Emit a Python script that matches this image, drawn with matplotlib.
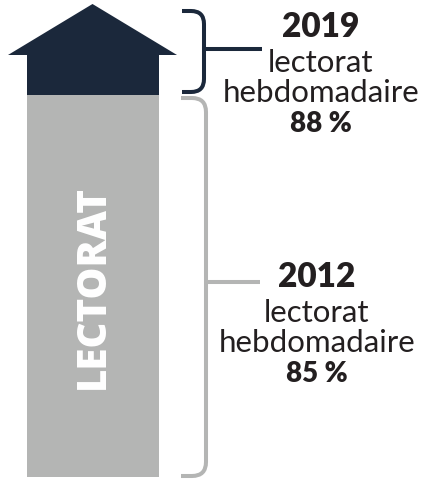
import matplotlib as mpl
import matplotlib.pyplot as plt
from matplotlib.path import Path
from matplotlib.patches import PathPatch, Polygon

# data
years = ['2019', '2012']
shares = [88, 85]
caption = ['lectorat', 'hebdomadaire']
bar_label = 'LECTORAT'

navy = '#1b283b'
grey = '#b4b5b4'
ink = '#231f20'

mpl.rcParams['font.family'] = ['Lato', 'DejaVu Sans']

fig = plt.figure(figsize=(4.24, 4.81), dpi=100)
ax = fig.add_axes([0, 0, 1, 1])
ax.set_xlim(0, 424)
ax.set_ylim(481, 0)
ax.axis('off')

# grey body (2012) and navy arrow head (2019)
ax.bar(92.5, 478 - 96, bottom=96, width=132, color=grey, linewidth=0)
ax.bar(92.5, 96 - 55, bottom=55, width=132, color=navy, linewidth=0)
ax.add_patch(Polygon([(8, 56), (92.5, 5), (177, 56)], closed=True,
                     facecolor=navy, edgecolor='none'))

ax.text(93, 287, bar_label, rotation=90, ha='center', va='center',
        color='white', fontsize=29, fontweight='heavy',
        family=['Open Sans', 'Lato', 'DejaVu Sans'])


def bracket(x0, x1, ytop, ybot, ymid, xtick, r, color):
    verts = [(x0, ytop), (x1 - r, ytop), (x1, ytop), (x1, ytop + r),
             (x1, ybot - r), (x1, ybot), (x1 - r, ybot), (x0, ybot)]
    codes = [Path.MOVETO, Path.LINETO, Path.CURVE3, Path.CURVE3,
             Path.LINETO, Path.CURVE3, Path.CURVE3, Path.LINETO]
    ax.add_patch(PathPatch(Path(verts, codes), facecolor='none',
                           edgecolor=color, linewidth=2.9, capstyle='butt'))
    ax.plot([x1, xtick], [ymid, ymid], color=color, linewidth=2.9,
            solid_capstyle='butt')


bracket(182, 204, 12, 93, 50, 262, 13, navy)
bracket(181, 206, 99, 477, 283, 260, 14, grey)

# labels
for yr, val, cx, base in zip(years, shares, [321, 317], [37, 287]):
    ax.text(cx, base, yr, ha='center', va='baseline', color=ink,
            fontsize=24, fontweight='heavy')
    ax.text(cx, base + 35, caption[0], ha='center', va='baseline',
            color=ink, fontsize=22.5)
    ax.text(cx, base + 65.5, caption[1], ha='center', va='baseline',
            color=ink, fontsize=22.5)
    ax.text(cx, base + 95.5, f'{val} %', ha='center', va='baseline',
            color=ink, fontsize=20, fontweight='heavy')

plt.savefig('out.png', dpi=100)
